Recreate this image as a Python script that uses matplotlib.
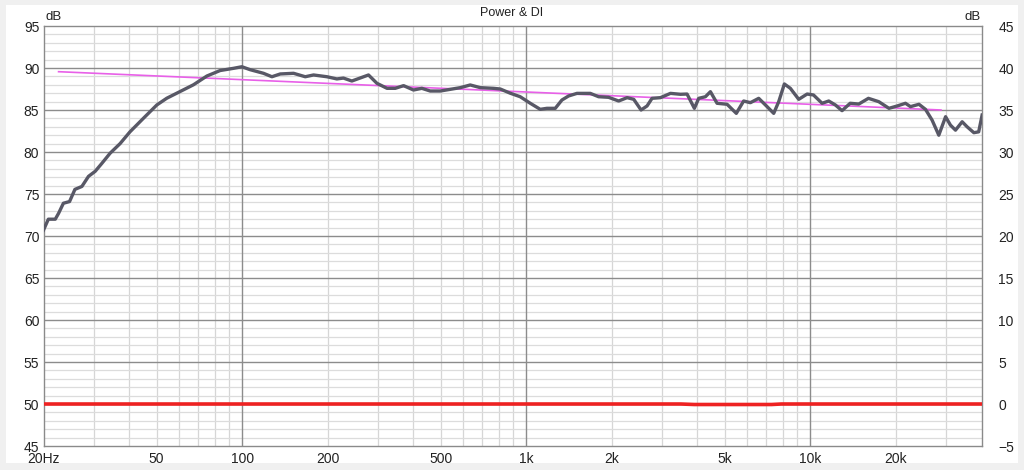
import matplotlib
matplotlib.use('Agg')
import matplotlib.pyplot as plt
from matplotlib.ticker import FixedLocator, NullFormatter

plt.rcParams['font.family'] = ['Liberation Sans', 'DejaVu Sans']

# power response (Hz, dB)
pw_freq = [20.0, 20.8, 22.0, 22.6, 23.5, 24.7, 25.8, 27.3, 28.8, 30.4, 32.1, 34.3, 37.2, 40.3,
           44.9, 50.1, 54.3, 60.5, 67.4, 75.2, 83.7, 93.2, 99.8, 106.7, 118.9, 127.3, 136.2,
           151.7, 166.8, 178.4, 198.8, 215.5, 227.3, 243.3, 278.5, 298.1, 323.5, 345.9, 370,
           401, 429, 459, 498, 540, 586, 635, 689, 767, 810, 878, 952, 1033, 1120, 1182, 1265,
           1335, 1409, 1508, 1680, 1797, 1949, 2114, 2264, 2389, 2535, 2661, 2771, 2966, 3217,
           3489, 3680, 3905, 4045, 4270, 4447, 4693, 5090, 5485, 5821, 6147, 6577, 7039, 7427,
           7734, 8096, 8500, 9096, 9734, 10250, 10990, 11600, 12240, 12920, 13800, 14800,
           16000, 17400, 18900, 20200, 21600, 22500, 24100, 25400, 26800, 28300, 29900, 31100,
           32400, 34200, 35600, 37600, 39100, 40200]
pw_db = [70.7, 72.0, 72.0, 72.7, 73.9, 74.1, 75.55, 75.9, 77.1, 77.7, 78.65, 79.85, 81.0, 82.4,
         84.0, 85.6, 86.4, 87.2, 88.0, 89.05, 89.7, 89.96, 90.15, 89.8, 89.37, 88.96, 89.29,
         89.37, 88.96, 89.17, 88.96, 88.7, 88.8, 88.45, 89.17, 88.18, 87.58, 87.58, 87.9,
         87.38, 87.58, 87.26, 87.26, 87.46, 87.66, 87.98, 87.66, 87.58, 87.5, 87.0, 86.58,
         85.8, 85.08, 85.2, 85.2, 86.19, 86.67, 86.98, 86.98, 86.58, 86.51, 86.07, 86.47,
         86.27, 85.0, 85.48, 86.39, 86.47, 86.98, 86.87, 86.9, 85.2, 86.39, 86.58, 87.18,
         85.8, 85.68, 84.6, 86.07, 85.87, 86.39, 85.4, 84.6, 85.99, 88.1, 87.58, 86.27, 86.9,
         86.79, 85.8, 86.07, 85.6, 84.92, 85.8, 85.71, 86.39, 85.99, 85.2, 85.48, 85.8, 85.4,
         85.68, 85.08, 83.8, 82.0, 84.2, 83.2, 82.6, 83.6, 83.0, 82.3, 82.4, 84.4]

# pink trend line
trend_freq = [22.6, 28800]
trend_db = [89.56, 85.0]

# directivity index (right axis)
di_freq = [20, 3500, 3900, 7300, 7900, 40000]
di_db = [0, 0, -0.06, -0.06, 0, 0]

xticks = [20, 50, 100, 200, 500, 1000, 2000, 5000, 10000, 20000]
xlabels = ['20Hz', '50', '100', '200', '500', '1k', '2k', '5k', '10k', '20k']
left_ticks = list(range(45, 96, 5))
right_ticks = list(range(-5, 46, 5))

fig = plt.figure(figsize=(10.24, 4.70), dpi=100, facecolor='#f0f0f0')
# white panel behind everything
fig.patches.append(plt.Rectangle((6 / 1024, 1 - 463 / 470), 1012 / 1024, 458 / 470,
                                 transform=fig.transFigure, facecolor='white',
                                 edgecolor='none', zorder=-10))

ax = fig.add_axes([43.5 / 1024, 1 - 446 / 470, 938 / 1024, 420 / 470])
ax.set_facecolor('white')
ax.set_xscale('log')
ax.set_xlim(20, 40000)
ax.set_ylim(45, 95)

# grid
minor_x = [m * 10 ** d for d in range(1, 5) for m in range(2, 10)]
minor_x = [v for v in minor_x if 20 < v < 40000]
for v in minor_x:
    ax.axvline(v, color='#d6d6d6', lw=0.9, zorder=1)
for v in range(46, 95):
    if v % 5:
        ax.axhline(v, color='#dcdcdc', lw=0.9, zorder=1)
for v in (100, 1000, 10000):
    ax.axvline(v, color='#8c8c8c', lw=1.0, zorder=2)
for v in range(50, 95, 5):
    ax.axhline(v, color='#8c8c8c', lw=1.0, zorder=2)

ax.plot(pw_freq, pw_db, color='#585866', lw=2.4, zorder=5, solid_joinstyle='round')
ax.plot(trend_freq, trend_db, color='#e860e8', lw=1.2, zorder=4)

ax.xaxis.set_major_locator(FixedLocator(xticks))
ax.set_xticklabels(xlabels)
ax.xaxis.set_minor_formatter(NullFormatter())
ax.set_yticks(left_ticks)
ax.tick_params(axis='both', which='both', length=0, labelsize=10, colors='#222222', pad=3)
ax.tick_params(axis='x', pad=4)
for s in ax.spines.values():
    s.set_color('#8a8a8a')
    s.set_linewidth(1.0)

ax2 = ax.twinx()
ax2.set_ylim(-5, 45)
ax2.set_yticks(right_ticks)
ax2.plot(di_freq, di_db, color='#ee2222', lw=2.6, zorder=6)
ax2.tick_params(axis='y', length=0, labelsize=10, colors='#222222', pad=12)
for s in ax2.spines.values():
    s.set_visible(False)

fig.text(0.5, 1 - 13 / 470, 'Power & DI', ha='center', va='center', fontsize=9, color='#222222')
fig.text(45 / 1024, 1 - 17 / 470, 'dB', ha='left', va='center', fontsize=9.5, color='#222222')
fig.text(981 / 1024, 1 - 17 / 470, 'dB', ha='right', va='center', fontsize=9.5, color='#222222')

fig.savefig('out.png', dpi=100, facecolor=fig.get_facecolor())
